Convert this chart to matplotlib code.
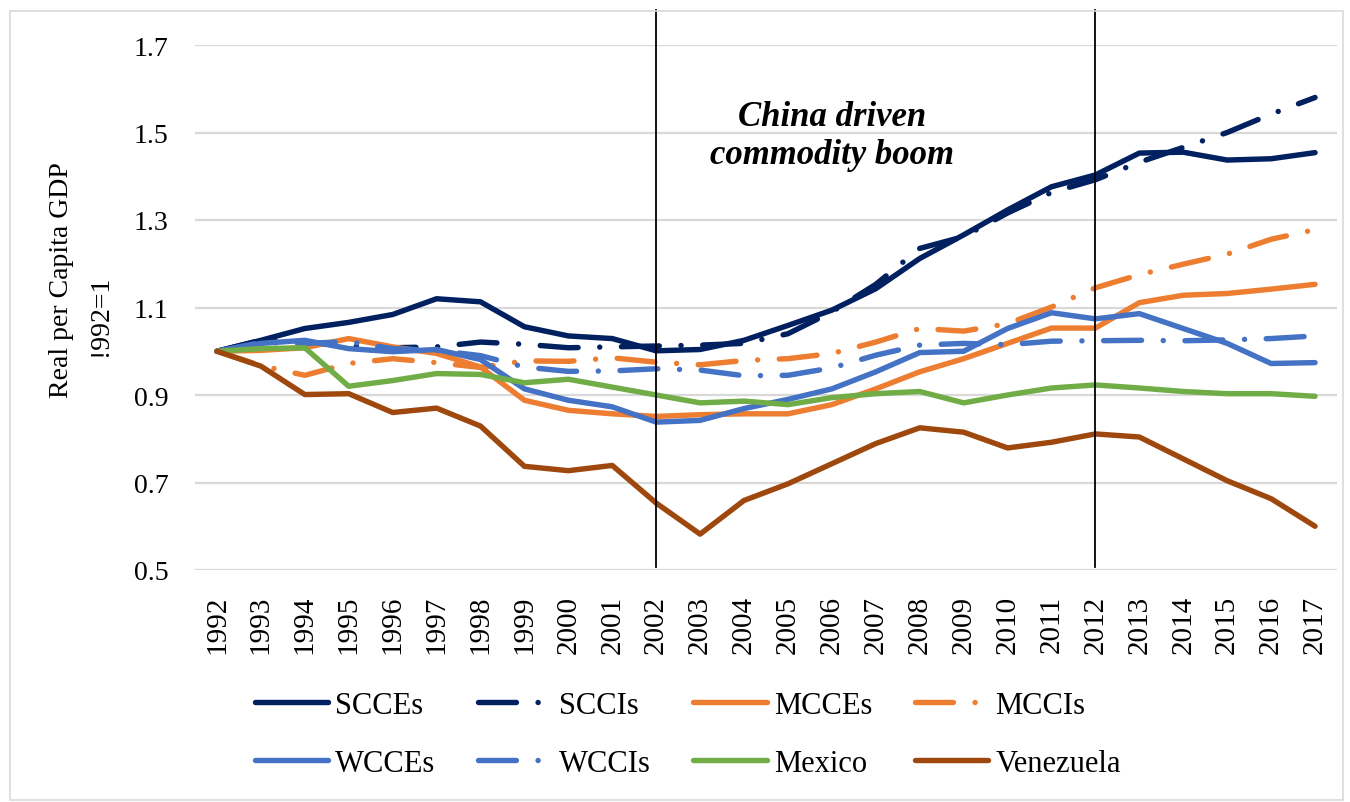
import numpy as np
import matplotlib.pyplot as plt
from matplotlib.patches import Rectangle

plt.rcParams['font.family'] = ['Liberation Serif', 'DejaVu Serif']

years = [str(y) for y in range(1992, 2018)]

scces = [1.000, 1.025, 1.052, 1.066, 1.084, 1.120, 1.113, 1.056, 1.035, 1.029, 1.001, 1.004, 1.025,
         1.059, 1.094, 1.143, 1.212, 1.266, 1.323, 1.376, 1.403, 1.453, 1.455, 1.437, 1.440, 1.454]
sccis = [1.000, 1.025, 1.020, 1.012, 1.008, 1.010, 1.021, 1.016, 1.008, 1.010, 1.012, 1.014, 1.018,
         1.040, 1.090, 1.153, 1.235, 1.262, 1.316, 1.363, 1.392, 1.432, 1.466, 1.500, 1.542, 1.580]
mcces = [1.000, 1.002, 1.008, 1.029, 1.010, 0.995, 0.964, 0.888, 0.865, 0.857, 0.851, 0.855, 0.857,
         0.857, 0.878, 0.914, 0.953, 0.983, 1.018, 1.053, 1.053, 1.111, 1.128, 1.132, 1.142, 1.153]
mccis = [1.000, 0.967, 0.945, 0.972, 0.983, 0.974, 0.963, 0.978, 0.977, 0.985, 0.975, 0.969, 0.979,
         0.983, 0.995, 1.021, 1.052, 1.046, 1.063, 1.101, 1.145, 1.175, 1.199, 1.222, 1.256, 1.278]
wcces = [1.000, 1.018, 1.025, 1.006, 0.999, 1.004, 0.981, 0.914, 0.888, 0.873, 0.838, 0.842, 0.869,
         0.890, 0.914, 0.953, 0.997, 1.000, 1.052, 1.088, 1.074, 1.086, 1.052, 1.018, 0.972, 0.974]
wccis = [1.000, 1.020, 1.018, 1.022, 1.006, 1.002, 0.990, 0.964, 0.954, 0.955, 0.960, 0.957, 0.944,
         0.945, 0.962, 0.991, 1.014, 1.018, 1.015, 1.023, 1.024, 1.025, 1.024, 1.026, 1.029, 1.035]
mexico = [1.000, 1.006, 1.008, 0.920, 0.933, 0.949, 0.947, 0.928, 0.936, 0.918, 0.900, 0.882, 0.886,
          0.878, 0.894, 0.903, 0.908, 0.882, 0.900, 0.916, 0.923, 0.916, 0.908, 0.903, 0.903, 0.897]
venezuela = [1.000, 0.966, 0.901, 0.903, 0.860, 0.870, 0.829, 0.737, 0.727, 0.739, 0.653, 0.582, 0.659,
             0.697, 0.743, 0.789, 0.825, 0.815, 0.779, 0.792, 0.811, 0.804, 0.754, 0.704, 0.663, 0.600]

NAVY, ORANGE, BLUE, GREEN, BROWN = '#002060', '#ED7D31', '#4472C4', '#70AD47', '#9E480E'
DASHDOT = (0, (7, 4, 0.01, 4))

series = [
    ('SCCEs', scces, NAVY, '-'),
    ('SCCIs', sccis, NAVY, DASHDOT),
    ('MCCEs', mcces, ORANGE, '-'),
    ('MCCIs', mccis, ORANGE, DASHDOT),
    ('WCCEs', wcces, BLUE, '-'),
    ('WCCIs', wccis, BLUE, DASHDOT),
    ('Mexico', mexico, GREEN, '-'),
    ('Venezuela', venezuela, BROWN, '-'),
]

fig = plt.figure(figsize=(13.5, 8.03), dpi=100)
ax = fig.add_axes([195/1350, 1 - 571/803, (1337 - 195)/1350, (571 - 46)/803])

x = np.arange(len(years))
handles = []
for name, vals, col, ls in series:
    h, = ax.plot(x, vals, color=col, linestyle=ls, lw=3.9, label=name,
                 solid_capstyle='round', dash_capstyle='round', solid_joinstyle='round', zorder=3)
    handles.append(h)

# period markers
for xv in (10, 20):
    ax.plot([xv, xv], [0.507, 1.78], color='black', lw=1.3, clip_on=False, zorder=5)

ax.text(14.0, 1.494, 'China driven\ncommodity boom', ha='center', va='center',
        fontsize=25, fontweight='bold', style='italic', linespacing=1.2, zorder=6)

ax.set_xlim(-0.5, len(years) - 0.5)
ax.set_ylim(0.5, 1.7)
ax.set_yticks(np.arange(0.5, 1.71, 0.2))
ax.set_yticklabels([f'{v:.1f}' for v in np.arange(0.5, 1.71, 0.2)])
ax.set_xticks(x)
ax.set_xticklabels(years, rotation=90)
ax.tick_params(axis='y', length=0, pad=19, labelsize=20)
ax.tick_params(axis='x', length=0, pad=18, labelsize=21)
ax.grid(axis='y', color='#D9D9D9', lw=1.6, zorder=0)
ax.set_axisbelow(True)
for s in ax.spines.values():
    s.set_visible(False)

fig.text(62/1350, 1 - 280/803, 'Real per Capita GDP', rotation=90, ha='center', va='center', fontsize=20)
fig.text(100/1350, 1 - 316/803, '!992=1', rotation=90, ha='center', va='center', fontsize=20)

# legend is filled column by column, so reorder to read row by row
order = [0, 4, 1, 5, 2, 6, 3, 7]
fig.legend(handles=[handles[i] for i in order], loc='upper left',
           bbox_to_anchor=(255/1350, 1 - 692/803), ncol=4,
           frameon=False, fontsize=22, handlelength=2.4, handletextpad=0.23, columnspacing=1.4,
           labelspacing=0.95, borderpad=0, borderaxespad=0)

fig.patches.append(Rectangle((10/1350, 2/803), 1333/1350, 789/803, transform=fig.transFigure,
                             fill=False, edgecolor='#D9D9D9', lw=1.2))

fig.savefig('out.png', dpi=100)
